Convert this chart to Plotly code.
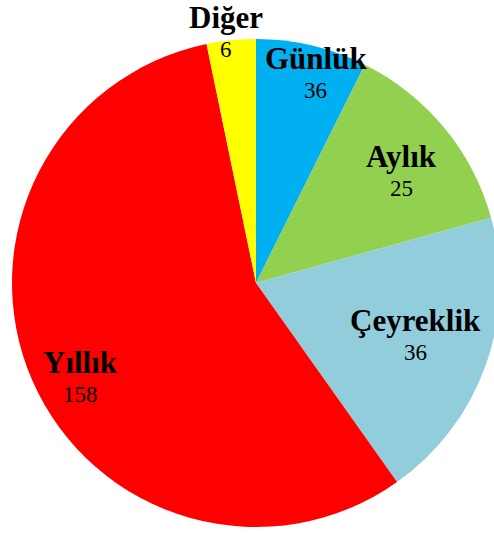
import math
import plotly.graph_objects as go

# Data
categories = ["Günlük", "Aylık", "Çeyreklik", "Yıllık", "Diğer"]
shares = [7.36, 13.33, 19.5, 56.56, 3.25]      # slice sizes (% of circle)
counts = [36, 25, 36, 158, 6]                  # numbers printed on the slices

# Style
colors = ["#00B0F0", "#92D050", "#92CDDC", "#FF0000", "#FFFF00"]
label_radius = [0.889, 0.748, 0.688, 0.82, 1.03]
label_nudge_deg = [2.8, 2.4, -1.0, -5.0, -0.95]

W, H = 506, 533
fig = go.Figure(go.Pie(
    labels=categories, values=shares, sort=False, direction="clockwise",
    rotation=0, marker=dict(colors=colors, line=dict(width=0)),
    textinfo="none", hoverinfo="label+value", showlegend=False,
    domain=dict(x=[0, 1], y=[0, 1]),
))

total = sum(shares)
cum = 0.0
annotations = []
for cat, s, n, rf, nd in zip(categories, shares, counts, label_radius, label_nudge_deg):
    mid = (cum + s / 2) / total * 360.0
    cum += s
    th = math.radians(mid + nd)
    x = 0.5 + 0.5 * rf * math.sin(th)
    y = 0.5 + 0.5 * rf * math.cos(th)
    annotations.append(dict(x=x, y=y, xref="paper", yref="paper", text=f"<b>{cat}</b>",
                            showarrow=False, xanchor="center", yanchor="middle", yshift=16,
                            font=dict(family="Liberation Serif", size=31, color="black")))
    annotations.append(dict(x=x, y=y, xref="paper", yref="paper", text=str(n),
                            showarrow=False, xanchor="center", yanchor="middle", yshift=-16,
                            font=dict(family="Liberation Serif", size=23, color="black")))

fig.update_layout(
    width=W, height=H, margin=dict(l=12, r=6, t=39, b=6, pad=0),
    paper_bgcolor="white", plot_bgcolor="white", annotations=annotations,
)

fig.write_html("out.html", config={"displayModeBar": False},
               post_script="document.body.style.margin='0';document.body.style.overflow='hidden';")
